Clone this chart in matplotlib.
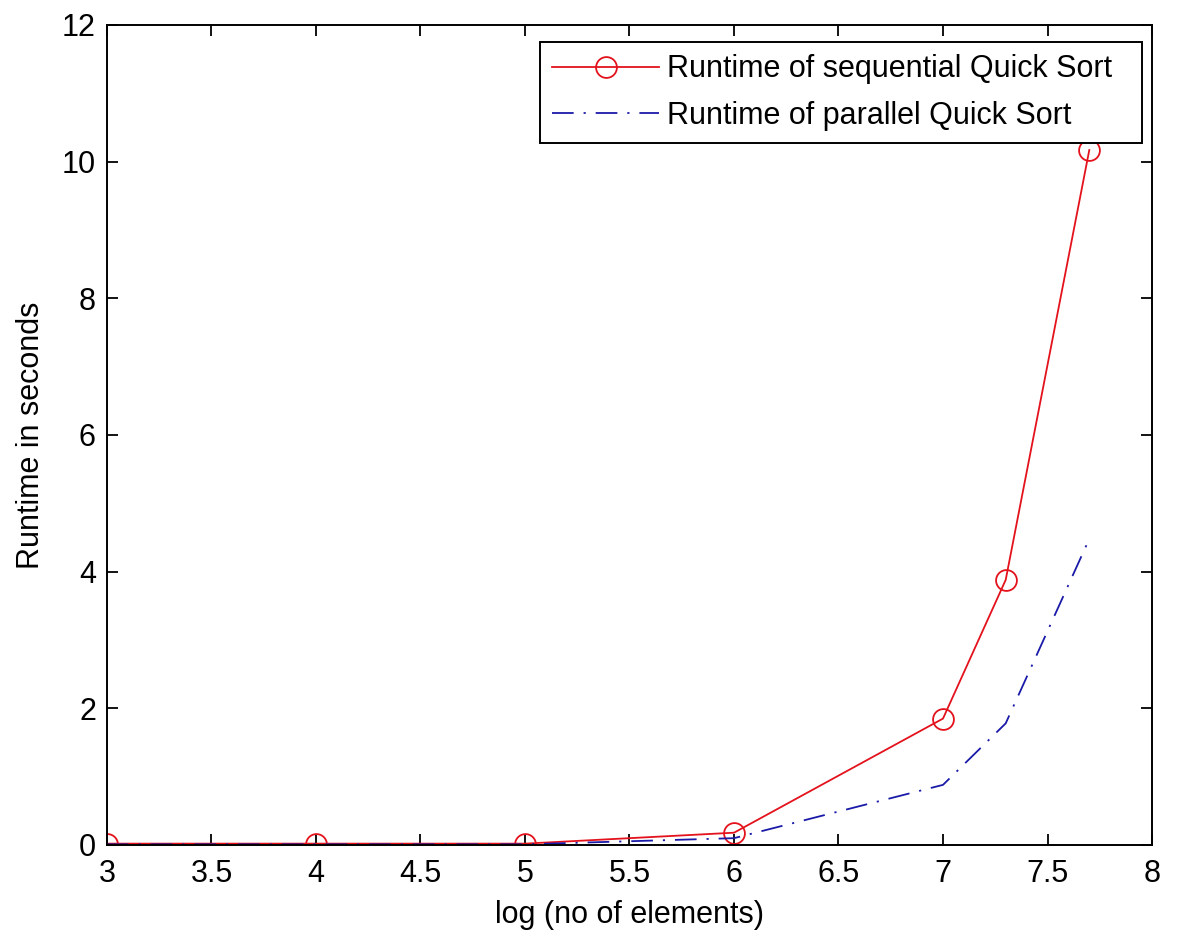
import matplotlib.pyplot as plt

# data
log_n = [3, 4, 5, 6, 7, 7.3, 7.7]
seq_runtime = [0.02, 0.02, 0.02, 0.18, 1.85, 3.88, 10.17]
par_runtime = [0.01, 0.01, 0.01, 0.10, 0.88, 1.78, 4.48]

x_ticks = [3, 3.5, 4, 4.5, 5, 5.5, 6, 6.5, 7, 7.5, 8]
x_tick_labels = ["3", "3.5", "4", "4.5", "5", "5.5", "6", "6.5", "7", "7.5", "8"]
y_ticks = [0, 2, 4, 6, 8, 10, 12]

plt.rcParams['font.family'] = ['Liberation Sans', 'DejaVu Sans']

W, H = 1179, 936
fig = plt.figure(figsize=(W / 100, H / 100), dpi=100)
ax = fig.add_axes([107 / W, 1 - 845 / H, 1045 / W, 820 / H])

ax.plot(log_n, seq_runtime, color='#e3121c', linewidth=1.3, marker='o',
        markersize=15, markerfacecolor='none', markeredgecolor='#e3121c',
        markeredgewidth=1.3, label='Runtime of sequential Quick Sort')
ax.plot(log_n, par_runtime, color='#1a1aa8', linewidth=1.3, linestyle='-.',
        dashes=(12, 5.5, 1.2, 5.5), label='Runtime of parallel Quick Sort')

ax.set_xlim(3, 8)
ax.set_ylim(0, 12)
ax.set_xticks(x_ticks)
ax.set_xticklabels(x_tick_labels)
ax.set_yticks(y_ticks)
ax.tick_params(direction='in', length=8, width=1.3, top=True, right=True,
               labelsize=22)
ax.tick_params(axis='x', pad=10)
ax.tick_params(axis='y', pad=8)
for s in ax.spines.values():
    s.set_linewidth(1.4)

ax.set_xlabel('log (no of elements)', fontsize=22, labelpad=8)
ax.set_ylabel('Runtime in seconds', fontsize=22, labelpad=11)

# legend box spans x 540..1142, top at y 42 in the reference
leg = ax.legend(loc='upper left', mode='expand',
                bbox_to_anchor=(540 / W, 1 - 142 / H, 602 / W, 100 / H),
                bbox_transform=fig.transFigure, borderaxespad=0,
                fontsize=22, fancybox=False, framealpha=1, edgecolor='black',
                handlelength=3.5, handletextpad=0.25, borderpad=0.4,
                labelspacing=0.54)
leg.get_frame().set_linewidth(1.4)

fig.savefig('out.png', dpi=100)
